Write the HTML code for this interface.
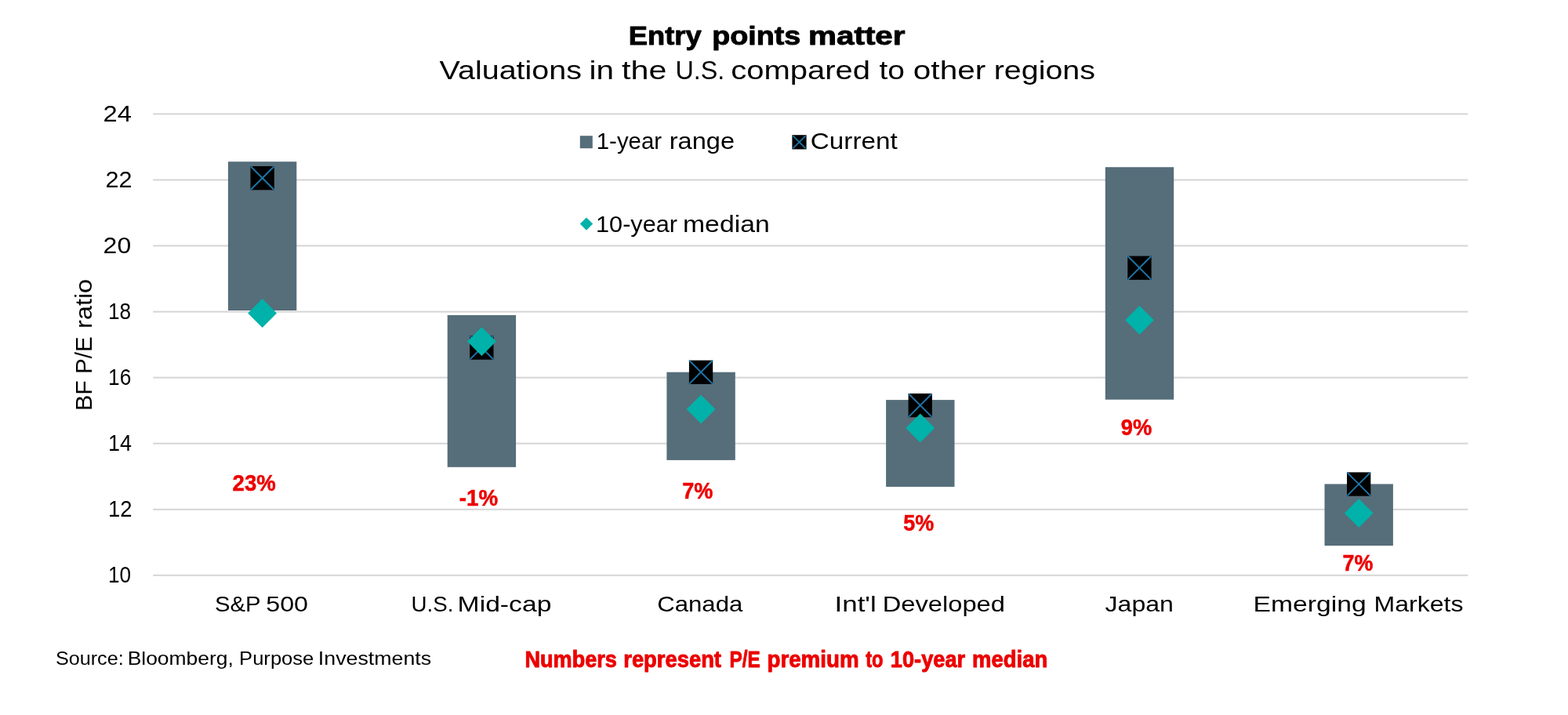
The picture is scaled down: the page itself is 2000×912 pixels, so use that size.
<!DOCTYPE html>
<html lang="en"><head><meta charset="utf-8"><title>Entry points matter</title>
<style>
html,body{margin:0;padding:0;background:#fff;}
body{width:2000px;height:912px;overflow:hidden;font-family:'Liberation Sans', Arial, sans-serif;}
svg{display:block}
text{font-family:'Liberation Sans', Arial, sans-serif;fill:#000;white-space:pre}
.b text{font-weight:bold}
.r text{fill:#ec0000;font-weight:bold}
.rs text{stroke:#ec0000;stroke-width:0.9px;stroke-linejoin:round}
.bs text{stroke:#000;stroke-width:0.9px;stroke-linejoin:round}
.ps text{stroke:#ec0000;stroke-width:0.5px}
</style></head><body>
<svg width="2000" height="912" viewBox="0 0 2000 912">
<rect width="2000" height="912" fill="#fff"/>
<rect x="195.3" y="144.4" width="1677.0" height="2" fill="#d5d5d5"/>
<rect x="195.3" y="228.5" width="1677.0" height="2" fill="#d5d5d5"/>
<rect x="195.3" y="312.5" width="1677.0" height="2" fill="#d5d5d5"/>
<rect x="195.3" y="396.6" width="1677.0" height="2" fill="#d5d5d5"/>
<rect x="195.3" y="480.6" width="1677.0" height="2" fill="#d5d5d5"/>
<rect x="195.3" y="564.7" width="1677.0" height="2" fill="#d5d5d5"/>
<rect x="195.3" y="648.8" width="1677.0" height="2" fill="#d5d5d5"/>
<rect x="195.3" y="732.8" width="1677.0" height="2" fill="#d5d5d5"/>
<rect x="290.9" y="206.2" width="87.4" height="189.8" fill="#566d7a"/>
<rect x="570.7" y="402.0" width="87.4" height="193.8" fill="#566d7a"/>
<rect x="850.4" y="474.7" width="87.4" height="112.2" fill="#566d7a"/>
<rect x="1130.1" y="510.1" width="87.4" height="110.8" fill="#566d7a"/>
<rect x="1409.8" y="213.2" width="87.4" height="296.5" fill="#566d7a"/>
<rect x="1689.5" y="617.4" width="87.4" height="78.6" fill="#566d7a"/>
<g><rect x="319.5" y="212.0" width="30.3" height="30.3" fill="#000" stroke="#1d74a6" stroke-width="0"/><path d="M319.8 212.3L349.5 242.0M349.5 212.3L319.8 242.0" stroke="#1d74a6" stroke-width="2.0" fill="none"/></g>
<g><rect x="599.2" y="428.4" width="30.3" height="30.3" fill="#000" stroke="#1d74a6" stroke-width="0"/><path d="M599.5 428.6L629.2 458.4M629.2 428.6L599.5 458.4" stroke="#1d74a6" stroke-width="2.0" fill="none"/></g>
<g><rect x="878.9" y="459.6" width="30.3" height="30.3" fill="#000" stroke="#1d74a6" stroke-width="0"/><path d="M879.2 459.8L908.9 489.6M908.9 459.8L879.2 489.6" stroke="#1d74a6" stroke-width="2.0" fill="none"/></g>
<g><rect x="1158.6" y="501.9" width="30.3" height="30.3" fill="#000" stroke="#1d74a6" stroke-width="0"/><path d="M1158.9 502.1L1188.6 531.9M1188.6 502.1L1158.9 531.9" stroke="#1d74a6" stroke-width="2.0" fill="none"/></g>
<g><rect x="1438.3" y="326.6" width="30.3" height="30.3" fill="#000" stroke="#1d74a6" stroke-width="0"/><path d="M1438.6 326.8L1468.3 356.6M1468.3 326.8L1438.6 356.6" stroke="#1d74a6" stroke-width="2.0" fill="none"/></g>
<g><rect x="1718.0" y="602.4" width="30.3" height="30.3" fill="#000" stroke="#1d74a6" stroke-width="0"/><path d="M1718.3 602.6L1748.0 632.4M1748.0 602.6L1718.3 632.4" stroke="#1d74a6" stroke-width="2.0" fill="none"/></g>
<path d="M334.6 381.1L353.0 399.5L334.6 417.9L316.2 399.5Z" fill="#00b2a9"/>
<path d="M614.4 417.2L632.8 435.6L614.4 454.0L596.0 435.6Z" fill="#00b2a9"/>
<path d="M894.1 503.7L912.5 522.1L894.1 540.5L875.7 522.1Z" fill="#00b2a9"/>
<path d="M1173.8 527.6L1192.2 546.0L1173.8 564.4L1155.4 546.0Z" fill="#00b2a9"/>
<path d="M1453.5 389.9L1471.9 408.3L1453.5 426.7L1435.1 408.3Z" fill="#00b2a9"/>
<path d="M1733.2 636.2L1751.6 654.6L1733.2 673.0L1714.8 654.6Z" fill="#00b2a9"/>
<rect x="739.8" y="173.2" width="16" height="16" fill="#566d7a"/>
<g><rect x="1010.4" y="172.2" width="18.2" height="18.2" fill="#000" stroke="#1d74a6" stroke-width="0"/><path d="M1011.6 173.4L1027.4 189.2M1027.4 173.4L1011.6 189.2" stroke="#1d74a6" stroke-width="1.8" fill="none"/></g>
<path d="M748.0 277.4L756.2 285.6L748.0 293.8L739.8 285.6Z" fill="#00b2a9"/>
<g font-size="33.4" class="b bs"><text transform="translate(801.82,57.30) scale(1.0885,1.0)">Entry </text><text transform="translate(908.14,57.30) scale(1.1293,1.0)">points </text><text transform="translate(1030.98,57.30) scale(1.2112,1.0)">matter</text></g>
<g font-size="33.7"><text transform="translate(560.60,100.80) scale(1.1716,1.0)">Valuations </text><text transform="translate(751.60,100.80) scale(1.2008,1.0)">in </text><text transform="translate(793.00,100.80) scale(1.2236,1.0)">the </text><text transform="translate(861.48,100.80) scale(0.9582,1.0)">U.S. </text><text transform="translate(932.21,100.80) scale(1.1872,1.0)">compared </text><text transform="translate(1121.40,100.80) scale(1.1550,1.0)">to </text><text transform="translate(1164.80,100.80) scale(1.2043,1.0)">other </text><text transform="translate(1267.66,100.80) scale(1.1705,1.0)">regions</text></g>
<g font-size="29.4"><text transform="translate(131.59,154.90) scale(1.1134,1.0)">24</text></g>
<g font-size="29.4"><text transform="translate(134.56,238.96) scale(1.0413,1.0)">22</text></g>
<g font-size="29.4"><text transform="translate(131.61,323.02) scale(1.0879,1.0)">20</text></g>
<g font-size="29.4"><text transform="translate(138.02,407.08) scale(0.8897,1.0)">18</text></g>
<g font-size="29.4"><text transform="translate(138.11,491.14) scale(0.8930,1.0)">16</text></g>
<g font-size="29.4"><text transform="translate(137.97,575.20) scale(0.9161,1.0)">14</text></g>
<g font-size="29.4"><text transform="translate(137.93,659.26) scale(0.9337,1.0)">12</text></g>
<g font-size="29.4"><text transform="translate(138.02,743.32) scale(0.8897,1.0)">10</text></g>
<g font-size="28.3"><text transform="translate(273.97,780.00) scale(1.0338,1.0)">S&amp;P </text><text transform="translate(339.26,780.00) scale(1.1391,1.0)">500</text></g>
<g font-size="28.3"><text transform="translate(524.54,780.00) scale(0.9791,1.0)">U.S. </text><text transform="translate(583.62,780.00) scale(1.1899,1.0)">Mid-cap</text></g>
<g font-size="28.3"><text transform="translate(838.20,780.00) scale(1.1008,1.0)">Canada</text></g>
<g font-size="28.3"><text transform="translate(1064.53,780.00) scale(1.2342,1.0)">Int'l </text><text transform="translate(1125.69,780.00) scale(1.1554,1.0)">Developed</text></g>
<g font-size="28.3"><text transform="translate(1409.50,780.00) scale(1.1345,1.0)">Japan</text></g>
<g font-size="28.3"><text transform="translate(1598.62,780.00) scale(1.1894,1.0)">Emerging </text><text transform="translate(1752.53,780.00) scale(1.1332,1.0)">Markets</text></g>
<g font-size="28.6"><text transform="translate(760.74,190.10) scale(1.0286,1.0)">1-year </text><text transform="translate(853.76,190.10) scale(1.1400,1.0)">range</text></g>
<g font-size="28.6"><text transform="translate(1033.84,190.10) scale(1.1631,1.0)">Current</text></g>
<g font-size="28.6"><text transform="translate(760.06,295.90) scale(1.0720,1.0)">10-year </text><text transform="translate(871.02,295.90) scale(1.1798,1.0)">median</text></g>
<g font-size="23.0"><text transform="translate(70.90,848.30) scale(1.0953,1.0)">Source: </text><text transform="translate(162.65,848.30) scale(1.1499,1.0)">Bloomberg, </text><text transform="translate(305.09,848.30) scale(1.1124,1.0)">Purpose </text><text transform="translate(405.87,848.30) scale(1.1638,1.0)">Investments</text></g>
<g font-size="28.7" class="r rs"><text transform="translate(669.46,851.20) scale(0.9445,1.0)">Numbers </text><text transform="translate(795.25,851.20) scale(0.9540,1.0)">represent </text><text transform="translate(930.45,851.20) scale(0.8491,1.0)">P/E </text><text transform="translate(978.43,851.20) scale(0.9676,1.0)">premium </text><text transform="translate(1104.20,851.20) scale(0.8248,1.0)">to </text><text transform="translate(1135.85,851.20) scale(0.9484,1.0)">10-year </text><text transform="translate(1239.94,851.20) scale(0.9590,1.0)">median</text></g>
<g font-size="29.5" class="r ps"><text transform="translate(296.57,626.00) scale(0.9340,1.0)">23%</text></g>
<g font-size="29.5" class="r ps"><text transform="translate(585.76,645.10) scale(0.9428,1.0)">-1%</text></g>
<g font-size="29.5" class="r ps"><text transform="translate(870.28,636.20) scale(0.9201,1.0)">7%</text></g>
<g font-size="29.5" class="r ps"><text transform="translate(1152.30,676.70) scale(0.9150,1.0)">5%</text></g>
<g font-size="29.5" class="r ps"><text transform="translate(1429.67,554.80) scale(0.9274,1.0)">9%</text></g>
<g font-size="29.5" class="r ps"><text transform="translate(1712.49,727.90) scale(0.9105,1.0)">7%</text></g>
<g font-size="29.6" transform="translate(116.8,522) rotate(-90)"><text transform="translate(-2.06,0.00) scale(1.0277,1.0)">BF </text><text transform="translate(45.10,0.00) scale(0.9986,1.0)">P/E </text><text transform="translate(103.11,0.00) scale(1.0943,1.0)">ratio</text></g>
</svg></body></html>
